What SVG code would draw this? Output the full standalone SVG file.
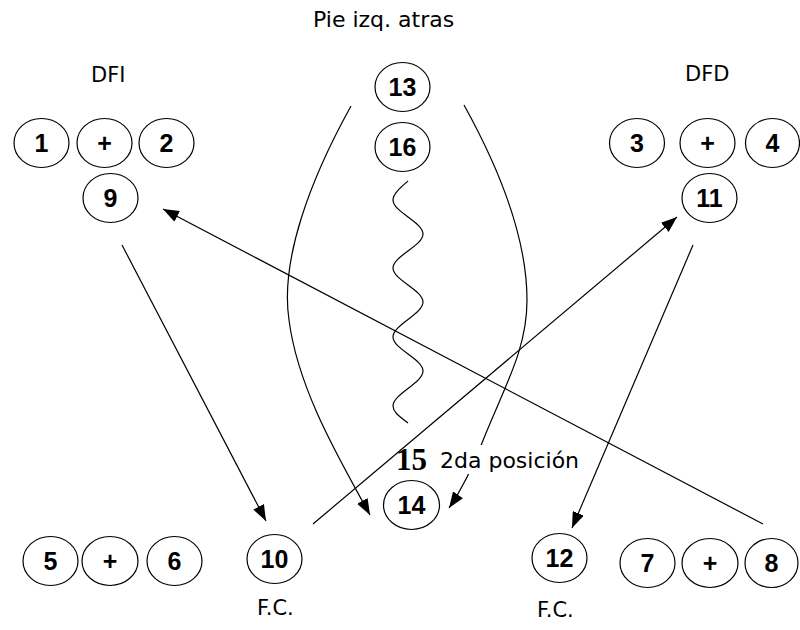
<svg xmlns="http://www.w3.org/2000/svg" width="800" height="630" viewBox="0 0 800 630">
<style>
.n ellipse{fill:#fff;stroke:#000;stroke-width:1.2}
.n text{font-family:"Liberation Sans",Arial,sans-serif;font-weight:bold;font-size:25px;text-anchor:middle;fill:#000}
.lbl{font-family:"DejaVu Sans",sans-serif;font-size:21px;fill:#000}
.c{fill:none;stroke:#000;stroke-width:1.2}
</style>
<defs>
<marker id="ah" viewBox="0 0 16 12" refX="16" refY="6" markerWidth="16" markerHeight="12" markerUnits="userSpaceOnUse" orient="auto">
<path d="M0,0 L16,6 L0,12 z" fill="#000"/>
</marker>
</defs>
<rect width="800" height="630" fill="#fff"/>

<g id="connectors">
<path class="c" d="M122,245 L266,521" marker-end="url(#ah)"/>
<path class="c" d="M313,524 L677,217" marker-end="url(#ah)"/>
<path class="c" d="M763,524 L163,209" marker-end="url(#ah)"/>
<path class="c" d="M693,245 L572,528" marker-end="url(#ah)"/>
<path class="c" d="M351,106 C 310,180 280,260 289,320 C 298,390 340,460 370,515" marker-end="url(#ah)"/>
<path class="c" d="M464,105 C 500,170 527,240 527,300 C 527,350 505,385 482,443 Q 468,480 449,508" marker-end="url(#ah)"/>
<path class="c" d="M408,181 C 400,188 393,194 393,200 C 393,212 423,222 423,234 C 423,246 393,256 393,268 C 393,280 423,290 423,302 C 423,314 393,325 393,337 C 393,349 423,359 423,371 C 423,383 393,394 393,406 C 393,413 402,418 408,423"/>
</g>

<g id="labels">
<text class="lbl" x="313" y="27" style="font-size:22px">Pie izq. atras</text>
<text class="lbl" x="91" y="82">DFI</text>
<text class="lbl" x="685" y="81">DFD</text>
<text class="lbl" x="257" y="615">F.C.</text>
<text class="lbl" x="537" y="617">F.C.</text>
<rect x="437" y="445" width="148" height="29" fill="#fff"/>
<text class="lbl" x="440" y="468" style="font-size:22px">2da posición</text>
<text x="396" y="470" style="font-family:'Liberation Serif',serif;font-weight:bold;font-size:31px">15</text>
</g>

<g id="n1" class="n"><ellipse cx="41.5" cy="143" rx="27.5" ry="24.5"/><text x="41.5" y="152">1</text></g>
<g id="nplus1" class="n"><ellipse cx="104.5" cy="143" rx="27.5" ry="24.5"/><text x="104.5" y="152">+</text></g>
<g id="n2" class="n"><ellipse cx="166.5" cy="143" rx="27.5" ry="24.5"/><text x="166.5" y="152">2</text></g>
<g id="n9" class="n"><ellipse cx="110.5" cy="198" rx="27.5" ry="24.5"/><text x="110.5" y="207">9</text></g>

<g id="n3" class="n"><ellipse cx="637" cy="143" rx="27.5" ry="24.5"/><text x="637" y="152">3</text></g>
<g id="nplus2" class="n"><ellipse cx="707.5" cy="143" rx="27.5" ry="24.5"/><text x="707.5" y="152">+</text></g>
<g id="n4" class="n"><ellipse cx="772.5" cy="143" rx="27" ry="24.5"/><text x="772.5" y="152">4</text></g>
<g id="n11" class="n"><ellipse cx="709.5" cy="198" rx="27.5" ry="24.5"/><text x="709.5" y="207">11</text></g>

<g id="n13" class="n"><ellipse cx="402.5" cy="87" rx="27.5" ry="24.5"/><text x="402.5" y="96">13</text></g>
<g id="n16" class="n"><ellipse cx="402.5" cy="147" rx="27.5" ry="24.5"/><text x="402.5" y="156">16</text></g>
<g id="n14" class="n"><ellipse cx="411.5" cy="505" rx="28" ry="24.5"/><text x="411.5" y="514">14</text></g>

<g id="n5" class="n"><ellipse cx="50.5" cy="561" rx="27.5" ry="24.5"/><text x="50.5" y="570">5</text></g>
<g id="nplus3" class="n"><ellipse cx="110" cy="561" rx="28" ry="24.5"/><text x="110" y="570">+</text></g>
<g id="n6" class="n"><ellipse cx="174.5" cy="561" rx="27.5" ry="24.5"/><text x="174.5" y="570">6</text></g>
<g id="n10" class="n"><ellipse cx="274.5" cy="559" rx="27.5" ry="24.5"/><text x="274.5" y="568">10</text></g>

<g id="n12" class="n"><ellipse cx="559.5" cy="558" rx="27.5" ry="24.5"/><text x="559.5" y="567">12</text></g>
<g id="n7" class="n"><ellipse cx="647.5" cy="563" rx="27.5" ry="24.5"/><text x="647.5" y="572">7</text></g>
<g id="nplus4" class="n"><ellipse cx="710" cy="563" rx="28" ry="24.5"/><text x="710" y="572">+</text></g>
<g id="n8" class="n"><ellipse cx="771.5" cy="563" rx="26.5" ry="24.5"/><text x="771.5" y="572">8</text></g>
</svg>
